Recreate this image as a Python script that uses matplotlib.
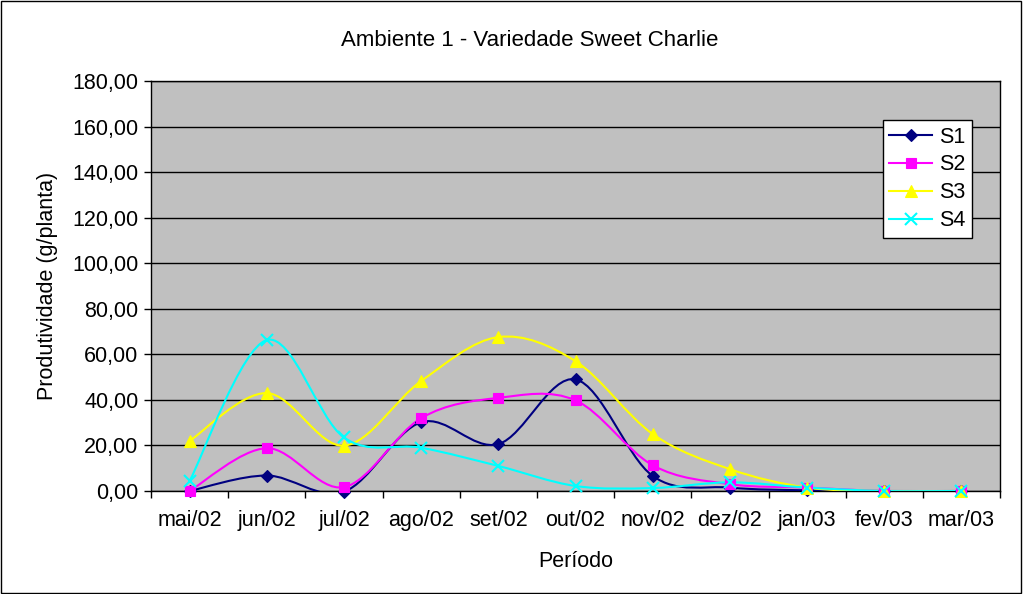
import numpy as np
import matplotlib
matplotlib.use("Agg")
import matplotlib.pyplot as plt
from matplotlib.path import Path
from matplotlib.patches import PathPatch, Rectangle
from matplotlib.ticker import FuncFormatter, MultipleLocator, FixedLocator

plt.rcParams['font.family'] = ['Liberation Sans', 'DejaVu Sans']

periodos = ["mai/02", "jun/02", "jul/02", "ago/02", "set/02", "out/02",
            "nov/02", "dez/02", "jan/03", "fev/03", "mar/03"]
s1 = [0.0, 6.8, -0.3, 30.2, 20.6, 49.0, 6.6, 1.5, 0.3, 0.0, 0.0]
s2 = [0.0, 18.8, 1.7, 32.0, 40.9, 39.8, 11.3, 3.0, 1.5, 0.0, 0.0]
s3 = [22.0, 43.0, 19.9, 48.3, 67.6, 57.0, 25.0, 9.6, 1.5, 0.0, 0.0]
s4 = [4.4, 66.3, 23.5, 19.0, 11.0, 2.2, 1.3, 3.8, 1.5, 0.0, 0.0]

series = [("S1", s1, "#000080", "D", 6),
          ("S2", s2, "#FF00FF", "s", 6.5),
          ("S3", s3, "#FFFF00", "^", 8),
          ("S4", s4, "#00FFFF", "x", 8)]

FS = 15.5


def smooth_path(x, y):
    # bezier curve through the points, like the smoothed lines of Excel
    x = np.asarray(x, float)
    y = np.asarray(y, float)
    verts = [(x[0], y[0])]
    codes = [Path.MOVETO]
    n = len(x)
    for i in range(n - 1):
        p0 = (x[max(i - 1, 0)], y[max(i - 1, 0)])
        p1 = (x[i], y[i])
        p2 = (x[i + 1], y[i + 1])
        p3 = (x[min(i + 2, n - 1)], y[min(i + 2, n - 1)])
        c1 = (p1[0] + (p2[0] - p0[0]) / 6, p1[1] + (p2[1] - p0[1]) / 6)
        c2 = (p2[0] - (p3[0] - p1[0]) / 6, p2[1] - (p3[1] - p1[1]) / 6)
        verts += [c1, c2, p2]
        codes += [Path.CURVE4] * 3
    return Path(verts, codes)


fig = plt.figure(figsize=(10.23, 5.94), dpi=100)
fig.patch.set_facecolor("white")
fig.add_artist(Rectangle((0.001, 0.002), 0.997, 0.996, transform=fig.transFigure,
                         fill=False, edgecolor="black", linewidth=1))

ax = fig.add_axes([0.1476, 0.1734, 0.83, 0.690])
ax.set_facecolor("#C0C0C0")

x = np.arange(len(periodos))
handles = []
for nome, vals, cor, mk, ms in series:
    ax.add_patch(PathPatch(smooth_path(x, vals), fill=False, edgecolor=cor,
                           linewidth=1.5, zorder=3))
    ax.plot(x, vals, linestyle="none", marker=mk, color=cor,
            markersize=ms, markeredgewidth=1.5 if mk == "x" else 0.8,
            markeredgecolor=cor, zorder=4, clip_on=False)
    handles.append(ax.plot([], [], color=cor, marker=mk, markersize=ms,
                           linewidth=1.5, markeredgewidth=1.5 if mk == "x" else 0.8)[0])

ax.set_xlim(-0.5, len(periodos) - 0.5)
ax.set_ylim(0, 180)
ax.yaxis.set_major_locator(MultipleLocator(20))
ax.yaxis.set_major_formatter(FuncFormatter(lambda v, p: f"{v:.2f}".replace(".", ",")))
ax.grid(axis="y", color="black", linewidth=1)
ax.set_axisbelow(True)

ax.set_xticks(x)
ax.set_xticklabels(periodos)
ax.xaxis.set_minor_locator(FixedLocator(np.arange(-0.5, len(periodos), 1)))
ax.tick_params(axis="x", which="major", length=0, pad=14, labelsize=FS)
ax.tick_params(axis="x", which="minor", length=5, width=1, direction="out")
ax.tick_params(axis="y", length=5, width=1, direction="out", labelsize=FS, pad=4)
for sp in ax.spines.values():
    sp.set_color("black")
    sp.set_linewidth(1)

fig.text(530 / 1023, 1 - 40 / 594, "Ambiente 1 - Variedade Sweet Charlie",
         fontsize=16, ha="center", va="center")
ax.set_ylabel("Produtividade (g/planta)", fontsize=FS, labelpad=10)
ax.set_xlabel("Período", fontsize=FS, labelpad=14)

leg = ax.legend(handles, [s[0] for s in series], loc="upper left",
                bbox_to_anchor=(0.862, 0.905), fancybox=False, framealpha=1,
                edgecolor="black", fontsize=FS, handlelength=2.0,
                borderpad=0.3, labelspacing=0.32, handletextpad=0.3,
                borderaxespad=0)
leg.get_frame().set_linewidth(1)

fig.savefig("out.png", dpi=100)
